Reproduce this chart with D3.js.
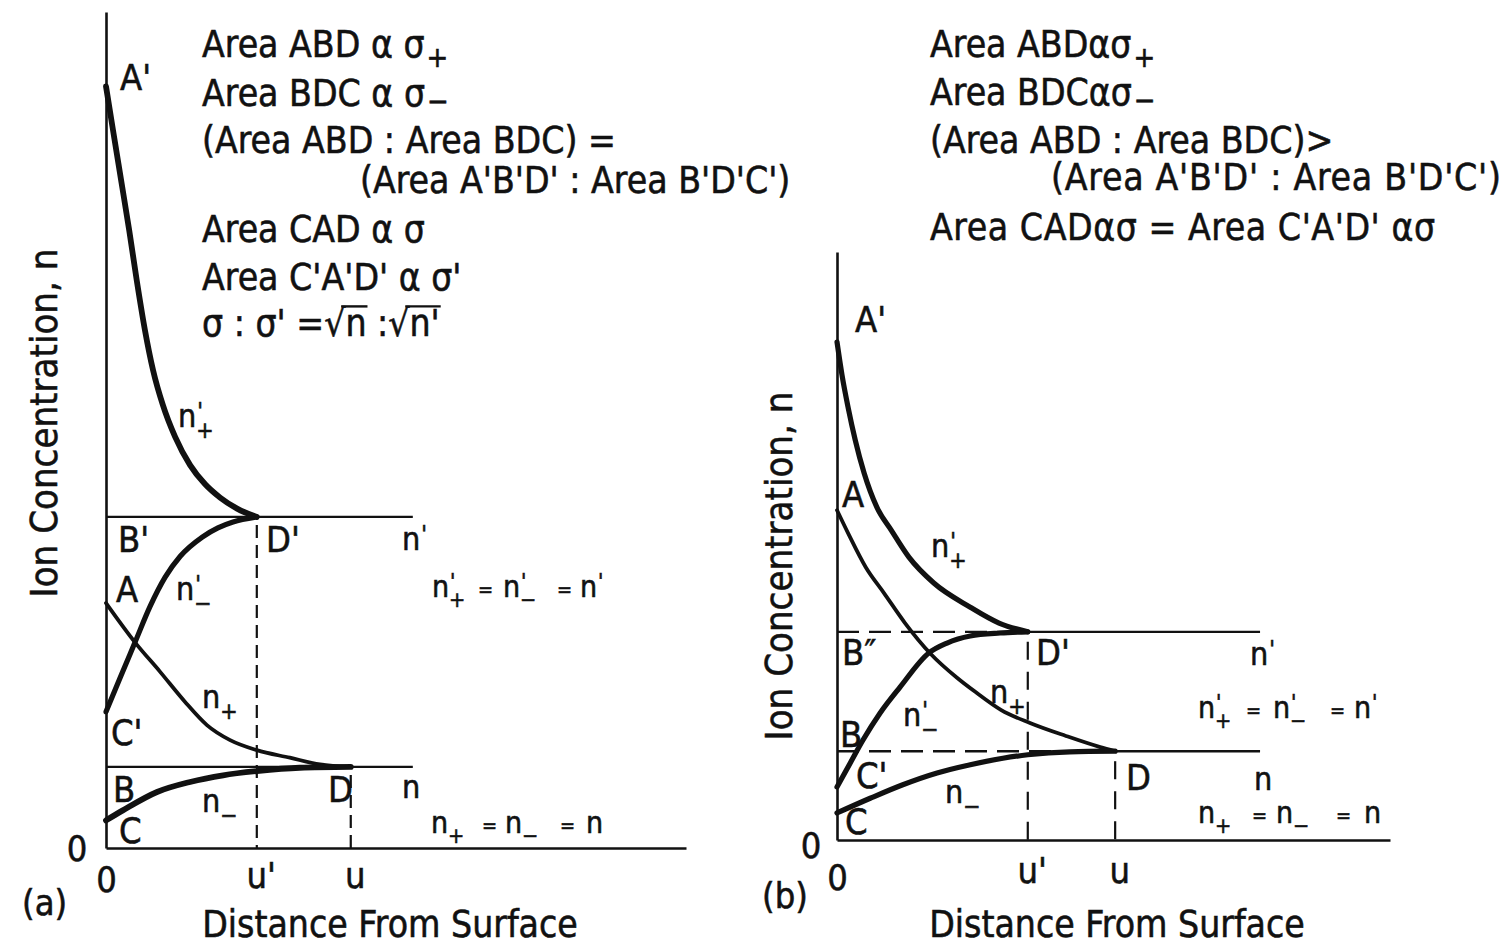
<!DOCTYPE html>
<html>
<head>
<meta charset="utf-8">
<script src="https://cdn.jsdelivr.net/npm/d3@7"></script>
<style>
  html, body { margin: 0; padding: 0; background: #fff; }
  svg { display: block; }
  text { font-family: "Liberation Sans Narrow", "Arial Narrow", "DejaVu Sans Condensed", sans-serif; fill: #111; stroke: #111; stroke-width: 0.55px; }
</style>
</head>
<body>
<svg id="chart" width="1508" height="946"></svg>
<script>
// ---------------- data ----------------
const xTickLabels = ["0", "u'", "u"];
const yTickLabels = ["0"];

// (a) same surface charge ratio, bulk concentrations n and n'
const aLevels = { n: 0.97, nPrime: 3.96 };
const aDepths = { u: 4.22, uPrime: 2.60, flatEnd: 5.29 };
const aPosPrime = [[0,9.11],[0.12,8.59],[0.26,7.99],[0.40,7.39],[0.53,6.79],[0.67,6.20],[0.81,5.72],[0.98,5.30],[1.19,4.92],[1.45,4.58],[1.71,4.35],[1.97,4.19],[2.26,4.06],[2.60,3.96]];
const aNegPrime = [[0,1.63],[0.24,2.03],[0.50,2.46],[0.76,2.89],[1.02,3.24],[1.28,3.49],[1.66,3.72],[1.93,3.83],[2.19,3.90],[2.60,3.96]];
const aPos      = [[0,2.93],[0.50,2.46],[0.93,2.11],[1.36,1.75],[1.74,1.47],[2.14,1.29],[2.60,1.17],[3.17,1.08],[3.69,1.00],[4.22,0.97]];
const aNeg      = [[0,0.33],[0.29,0.45],[0.88,0.67],[1.45,0.79],[2.02,0.87],[2.60,0.92],[3.34,0.96],[4.22,0.97]];

// (b) same total charge, different ratio
const bLevels = { n: 1.51, nPrime: 3.54 };
const bDepths = { u: 5.03, uPrime: 3.45, flatEnd: 7.65 };
const bPosPrime = [[0,8.47],[0.09,7.91],[0.20,7.36],[0.33,6.80],[0.49,6.24],[0.72,5.66],[0.98,5.27],[1.30,4.81],[1.75,4.37],[2.41,3.96],[2.93,3.69],[3.45,3.54]];
const bPos      = [[0,5.61],[0.20,5.22],[0.52,4.64],[0.85,4.20],[1.23,3.69],[1.70,3.16],[2.17,2.76],[2.50,2.52],[2.97,2.21],[3.49,1.99],[4.14,1.77],[4.76,1.58],[5.03,1.51]];
const bNegPrime = [[0,0.90],[0.24,1.31],[0.47,1.70],[0.78,2.16],[1.14,2.60],[1.66,3.18],[1.99,3.35],[2.41,3.47],[2.95,3.52],[3.45,3.54]];
const bNeg      = [[0,0.46],[0.60,0.71],[1.19,0.94],[1.81,1.14],[2.41,1.28],[3.00,1.39],[3.45,1.45],[4.21,1.50],[5.03,1.51]];

const notesA = ["Area ABD α σ", "Area BDC α σ", "(Area ABD : Area BDC) =", "(Area A'B'D' : Area B'D'C')", "Area CAD α σ", "Area C'A'D' α σ'", "σ : σ' =√n :√n'"];
const notesB = ["Area ABDασ", "Area BDCασ", "(Area ABD : Area BDC)>", "(Area A'B'D' : Area B'D'C')", "Area CADασ = Area C'A'D' ασ"];
const axisTitleY = "Ion Concentration, n";
const axisTitleX = "Distance From Surface";

// ---------------- drawing ----------------
const ink = "#111";
const svg = d3.select("#chart");
svg.append("rect").attr("width", 1508).attr("height", 946).attr("fill", "#fff");

const xA = d3.scaleLinear().domain([0, 10]).range([106, 686]);
const yA = d3.scaleLinear().domain([0, 10]).range([848, 12]);
const xB = d3.scaleLinear().domain([0, 10]).range([837, 1390]);
const yB = d3.scaleLinear().domain([0, 10]).range([840, 252]);

function curve(g, x, y, data, width) {
  const gen = d3.line().x(d => x(d[0])).y(d => y(d[1])).curve(d3.curveMonotoneX);
  g.append("path").attr("d", gen(data)).attr("fill", "none")
    .attr("stroke", ink).attr("stroke-width", width)
    .attr("stroke-linecap", "round").attr("stroke-linejoin", "round");
}

function seg(g, x1, y1, x2, y2, width, dash) {
  g.append("line").attr("x1", x1).attr("y1", y1).attr("x2", x2).attr("y2", y2)
    .attr("stroke", ink).attr("stroke-width", width)
    .attr("stroke-dasharray", dash || null);
}

// "n" with a stacked prime above and a sign below, as one text element
function ion(g, px, py, sup, sub, size) {
  const t = g.append("text").attr("x", px).attr("y", py).attr("font-size", size);
  t.append("tspan").text("n");
  let supW = 0;
  if (sup) {
    const s = t.append("tspan").attr("dx", 1).attr("dy", -size * 0.26).attr("font-size", size * 0.72).text(sup);
    supW = s.node().getComputedTextLength() + 1;
  }
  if (sub) {
    t.append("tspan").attr("dx", -supW).attr("dy", sup ? size * 0.6 : size * 0.34)
      .attr("font-size", size * 0.72).text(sub);
  }
  return t;
}

function label(g, px, py, str, size) {
  return g.append("text").attr("x", px).attr("y", py).attr("font-size", size || 36).text(str);
}

function eqSign(g, px, py) {
  return g.append("text").attr("x", px).attr("y", py - 1).attr("font-size", 20).text("=");
}

// a line of relation text, with an optional lowered sign after it
function noteLine(g, px, py, str, sub, size, subDy, width) {
  const t = g.append("text").attr("x", px).attr("y", py).attr("font-size", size);
  const main = t.append("tspan").text(str);
  if (width) t.attr("textLength", width).attr("lengthAdjust", "spacing");
  if (sub) t.append("tspan").attr("dx", 2).attr("dy", subDy).attr("font-size", size * 0.78).text(sub);
  return t;
}

function axes(g, x, y, uP, u, o) {
  const xa = g.append("g").attr("transform", `translate(0,${y(0)})`)
    .call(d3.axisBottom(x).tickValues([0, uP, u]).tickFormat((d, i) => xTickLabels[i]).tickSize(0).tickSizeOuter(0));
  xa.attr("font-family", null).attr("font-size", null);
  xa.select(".domain").attr("stroke", ink).attr("stroke-width", 2.6);
  xa.selectAll(".tick text").attr("dy", null).attr("y", (d, i) => i === 0 ? o.zeroY : o.tickY)
    .attr("dx", (d, i) => i === 0 ? 0 : 4).attr("font-size", 36).attr("fill", ink);

  const ya = g.append("g").attr("transform", `translate(${x(0)},0)`)
    .call(d3.axisLeft(y).tickValues([0]).tickFormat((d, i) => yTickLabels[i]).tickSize(0).tickSizeOuter(0));
  ya.attr("font-family", null).attr("font-size", null);
  ya.select(".domain").attr("stroke", ink).attr("stroke-width", 2.6);
  ya.selectAll(".tick text").attr("dy", null).attr("x", o.yZeroX).attr("y", o.yZeroDy)
    .attr("text-anchor", "middle").attr("font-size", 36).attr("fill", ink);
}

function titles(g, tag, tagX, tagY, xTitleX, yTitleX, yTitleY) {
  label(g, tagX, tagY, tag, 36);
  g.append("text").attr("x", xTitleX).attr("y", 937).attr("font-size", 37)
    .attr("text-anchor", "middle").text(axisTitleX);
  g.append("text").attr("transform", `translate(${yTitleX},${yTitleY}) rotate(-90)`)
    .attr("font-size", 38).attr("text-anchor", "middle").text(axisTitleY);
}

const fs = 37;

// ---------- panel (a) ----------
{
  const g = svg.append("g");
  const x = xA, y = yA;
  // flat bulk levels
  seg(g, x(0), y(aLevels.nPrime), x(aDepths.flatEnd), y(aLevels.nPrime), 2.2);
  seg(g, x(0), y(aLevels.n), x(aDepths.flatEnd), y(aLevels.n), 2.2);
  // boundary-layer edges
  seg(g, x(aDepths.uPrime), y(aLevels.nPrime) + 8, x(aDepths.uPrime), y(0), 2.2, "13,7");
  seg(g, x(aDepths.u), y(aLevels.n) + 8, x(aDepths.u), y(0), 2.2, "13,7");
  // concentration profiles
  curve(g, x, y, aPos, 3.8);
  curve(g, x, y, aNegPrime, 5.2);
  curve(g, x, y, aPosPrime, 5.8);
  curve(g, x, y, aNeg, 5.8);
  axes(g, x, y, aDepths.uPrime, aDepths.u, { tickY: 40, zeroY: 44, yZeroX: -29, yZeroDy: 12 });

  // point labels
  label(g, 120, 90, "A'");
  ion(g, 178, 427, "'", "+", 32);
  label(g, 118, 552, "B'");
  label(g, 266, 552, "D'");
  ion(g, 402, 550, "'", null, 32);
  label(g, 116, 602, "A");
  ion(g, 176, 600, "'", "−", 32);
  ion(g, 202, 708, null, "+", 32);
  label(g, 111, 745, "C'");
  label(g, 113, 802, "B");
  ion(g, 202, 812, null, "−", 32);
  label(g, 328, 802, "D");
  ion(g, 402, 798, null, null, 32);
  label(g, 119, 843, "C");

  // equilibrium relations
  ion(g, 432, 597, "'", "+", 30);
  eqSign(g, 478, 597);
  ion(g, 503, 597, "'", "−", 30);
  eqSign(g, 557, 597);
  ion(g, 580, 597, "'", null, 30);
  ion(g, 431, 833, null, "+", 30);
  eqSign(g, 482, 833);
  ion(g, 505, 833, null, "−", 30);
  eqSign(g, 560, 833);
  ion(g, 586, 833, null, null, 30);

  // area relations
  noteLine(g, 202, 57, notesA[0], "+", fs, 10);
  noteLine(g, 202, 106, notesA[1], "−", fs, 5);
  noteLine(g, 202, 153, notesA[2], null, fs);
  noteLine(g, 360, 193, notesA[3], null, fs);
  noteLine(g, 202, 242, notesA[4], null, fs);
  noteLine(g, 202, 290, notesA[5], null, fs);
  // σ : σ' = √n : √n'  with bars over the radicands
  const s = notesA[6];
  const r = g.append("text").attr("x", 202).attr("y", 336).attr("font-size", fs).text(s);
  const node = r.node();
  [[s.indexOf("√"), 1], [s.lastIndexOf("√"), 2]].forEach(([i, len]) => {
    const a = node.getStartPositionOfChar(i).x + node.getExtentOfChar(i).width * 0.8;
    const e = node.getEndPositionOfChar(i + len).x;
    seg(g, a, 336 - fs * 0.8, e + 1, 336 - fs * 0.8, 2.4);
  });

  titles(g, "(a)", 22, 915, 390, 57, 423);
}

// ---------- panel (b) ----------
{
  const g = svg.append("g");
  const x = xB, y = yB;
  // bulk levels: dashed inside the layer, solid beyond
  seg(g, x(0), y(bLevels.nPrime), x(bDepths.uPrime), y(bLevels.nPrime), 2.4, "22,10");
  seg(g, x(bDepths.uPrime), y(bLevels.nPrime), x(bDepths.flatEnd), y(bLevels.nPrime), 2.4);
  seg(g, x(0), y(bLevels.n), x(bDepths.u), y(bLevels.n), 2.4, "22,10");
  seg(g, x(bDepths.u), y(bLevels.n), x(bDepths.flatEnd), y(bLevels.n), 2.4);
  seg(g, x(bDepths.uPrime), y(bLevels.nPrime) + 10, x(bDepths.uPrime), y(0), 2.2, "18,12");
  seg(g, x(bDepths.u), y(bLevels.n) + 10, x(bDepths.u), y(0), 2.2, "18,12");
  curve(g, x, y, bPos, 3.8);
  curve(g, x, y, bNegPrime, 5.2);
  curve(g, x, y, bPosPrime, 5.2);
  curve(g, x, y, bNeg, 5.2);
  axes(g, x, y, bDepths.uPrime, bDepths.u, { tickY: 43, zeroY: 50, yZeroX: -26, yZeroDy: 17 });

  label(g, 855, 332, "A'");
  label(g, 842, 507, "A");
  ion(g, 931, 557, "'", "+", 32);
  label(g, 842, 665, "B″");
  label(g, 1036, 665, "D'");
  ion(g, 1250, 665, "'", null, 32);
  ion(g, 990, 703, null, "+", 32);
  ion(g, 903, 726, "'", "−", 32);
  label(g, 840, 747, "B");
  label(g, 856, 788, "C'");
  label(g, 1126, 790, "D");
  ion(g, 1254, 790, null, null, 32);
  ion(g, 945, 803, null, "−", 32);
  label(g, 845, 834, "C");

  ion(g, 1198, 718, "'", "+", 30);
  eqSign(g, 1246, 718);
  ion(g, 1273, 718, "'", "−", 30);
  eqSign(g, 1330, 718);
  ion(g, 1354, 718, "'", null, 30);
  ion(g, 1198, 823, null, "+", 30);
  eqSign(g, 1252, 823);
  ion(g, 1276, 823, null, "−", 30);
  eqSign(g, 1336, 823);
  ion(g, 1364, 823, null, null, 30);

  noteLine(g, 930, 57, notesB[0], "+", fs, 10);
  noteLine(g, 930, 105, notesB[1], "−", fs, 5);
  noteLine(g, 930, 153, notesB[2], null, fs);
  noteLine(g, 1051, 190, notesB[3], null, fs, 0, 450);
  noteLine(g, 930, 240, notesB[4], null, fs, 0, 505);

  titles(g, "(b)", 762, 908, 1117, 792, 566);
}
</script>
</body>
</html>
